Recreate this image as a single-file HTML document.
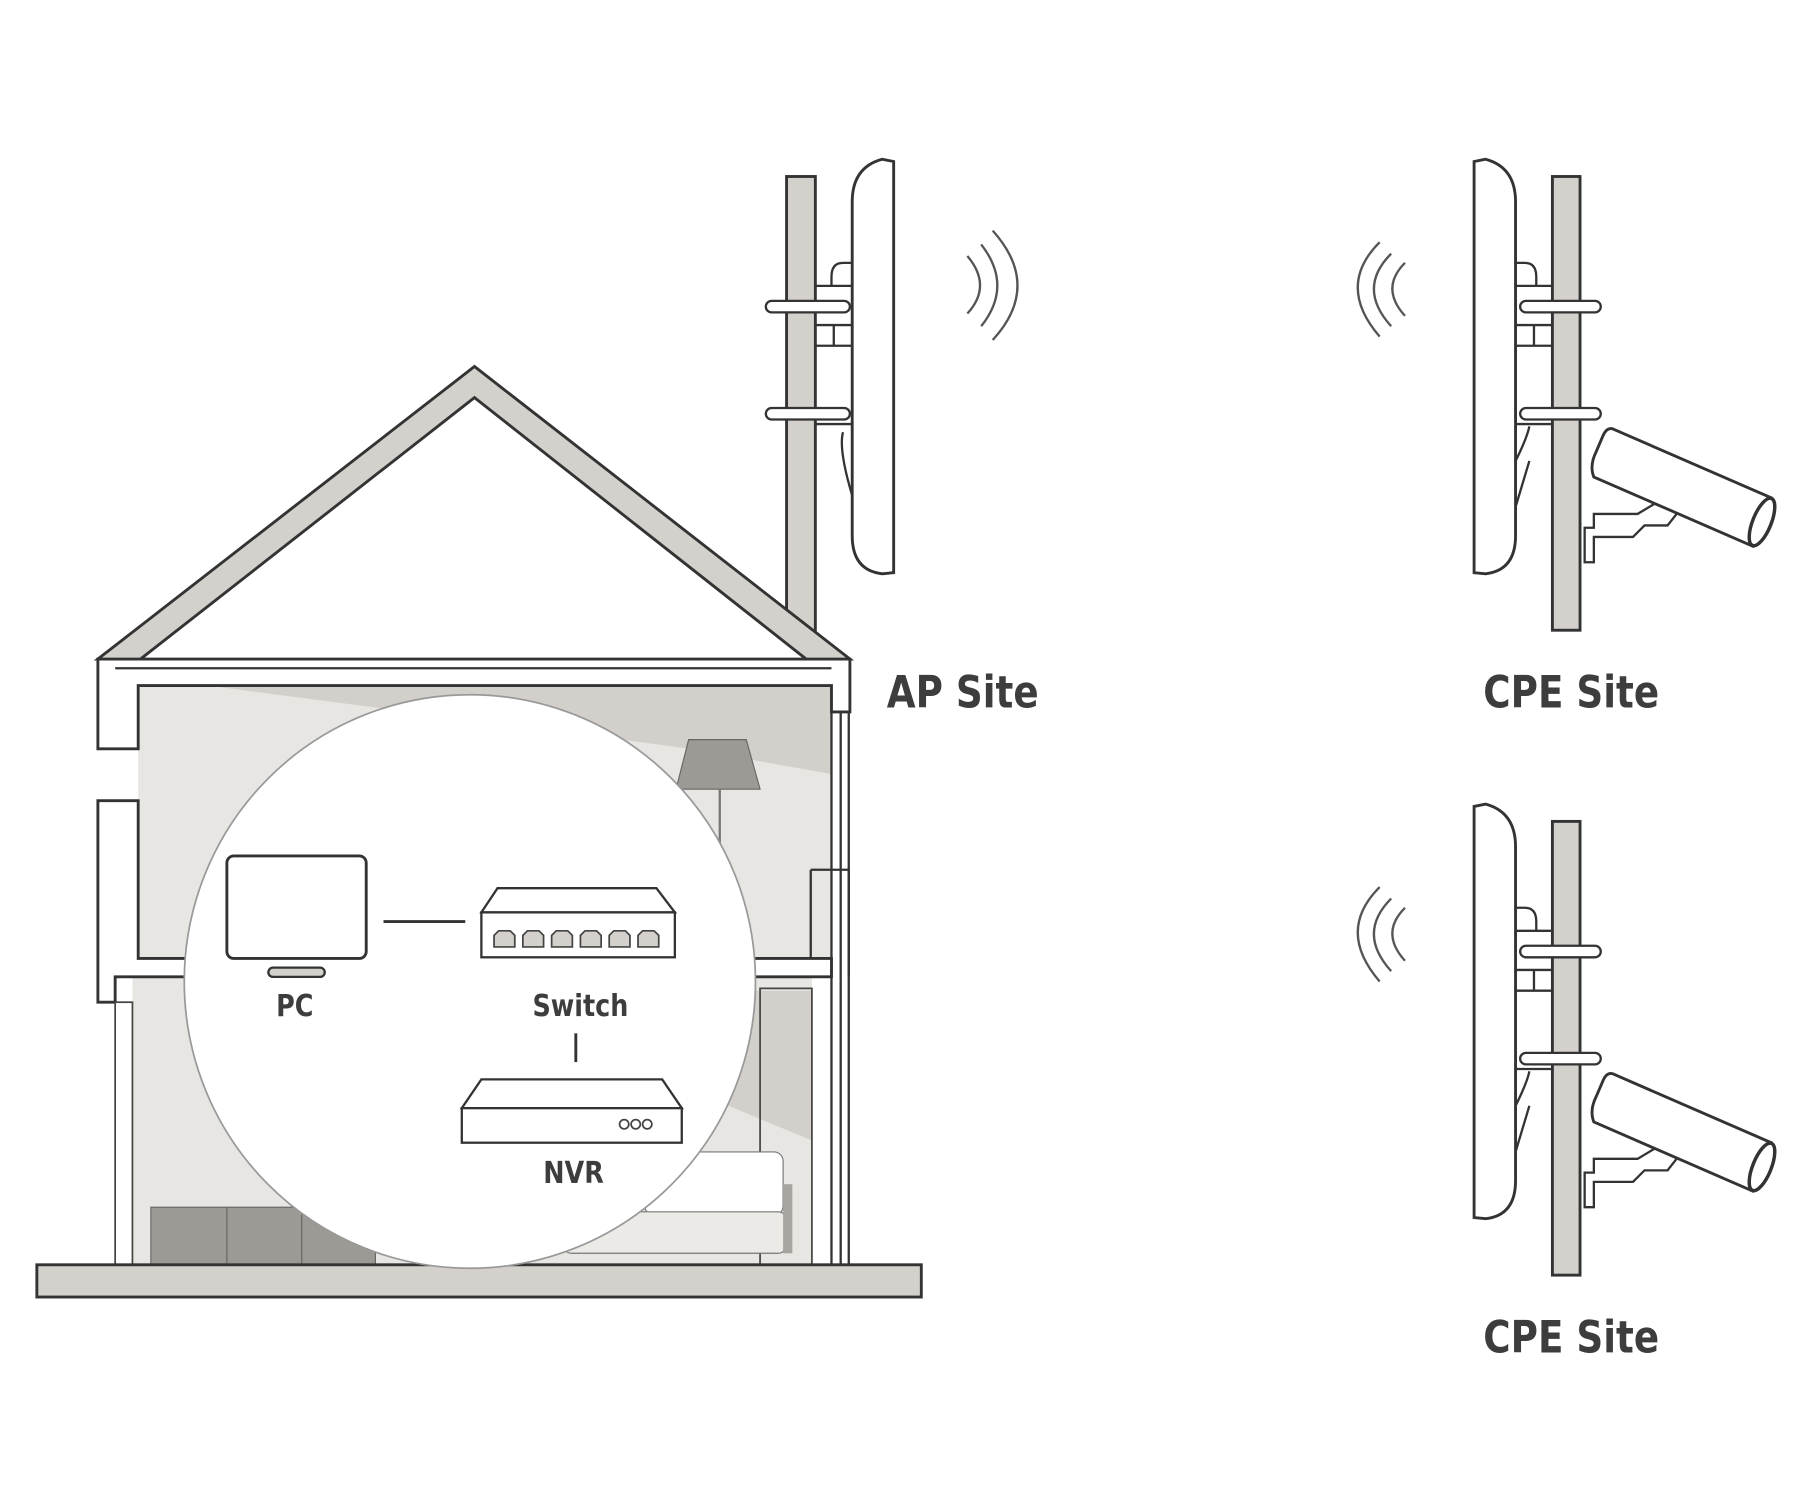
<!DOCTYPE html>
<html><head><meta charset="utf-8"><style>
html,body{margin:0;padding:0;background:#fff;}
svg{display:block;}
text{font-family:"DejaVu Sans","Liberation Sans",sans-serif;fill:#3d3d3d;font-weight:bold;}
</style></head><body>
<svg width="1800" height="1500" viewBox="0 0 1563 1302" xmlns="http://www.w3.org/2000/svg">
<defs>
<g id="cam">
  <path d="M1376,458 h8 v-12 h38 l30,-18 l18,0 l-22,28 h-20 l-10,10 h-34 v22 h-8 z" fill="#fff" stroke="#333" stroke-width="2"/>
  <path d="M1400,372 L1538,432 L1522,474 L1384,414 Q1380,404 1386,392 L1392,378 Q1395,371 1400,372 Z" fill="#fff" stroke="#333" stroke-width="2.5"/>
  <ellipse cx="1530" cy="453" rx="8" ry="22" transform="rotate(22 1530 453)" fill="#fff" stroke="#333" stroke-width="3"/>
</g>
<g id="cpe">
  <rect x="1348" y="153" width="24" height="394" fill="#d4d1cc" stroke="#333" stroke-width="2.5"/>
  <path d="M1316,228 h8 q10,0 10,12 v8 h14 M1316,248 h32 M1316,300 h32 M1332,282 v18 M1316,282 h32 M1316,368 h32 M1316,400 q10,-20 12,-30 M1316,440 l12,-40" fill="none" stroke="#333" stroke-width="2"/>
  <rect x="1320" y="261" width="70" height="10" rx="5" fill="#fff" stroke="#333" stroke-width="2"/>
  <rect x="1320" y="354" width="70" height="10" rx="5" fill="#fff" stroke="#333" stroke-width="2"/>
  <path d="M1280,140 L1290,138 Q1316,145 1316,175 L1316,465 Q1316,495 1290,498 L1280,497 Z" fill="#fff" stroke="#333" stroke-width="2.5"/>
  <use href="#cam"/>
  <g fill="none" stroke="#555" stroke-width="2">
    <path d="M1198,210 Q1160,248 1198,292"/>
    <path d="M1208,220 Q1178,250 1208,283"/>
    <path d="M1220,228 Q1198,250 1220,274"/>
  </g>
</g>
</defs>

<rect x="100" y="580" width="630" height="518" fill="#fff"/>
<rect x="120" y="595" width="602" height="240" fill="#e8e6e2"/>
<polygon points="180,595 722,595 722,672 600,650" fill="#d3d0cb"/>
<rect x="115" y="848" width="590" height="250" fill="#e8e6e2"/>
<polygon points="560,860 705,860 705,990 560,930" fill="#d3d0cb"/>
<path d="M85,572 H738 V618 H722 V595 H120 V650 H85 Z" fill="#fff" stroke="#333" stroke-width="2.5"/>
<path d="M100,580 H722" stroke="#333" stroke-width="2"/>
<path d="M722,618 V1098 M737,618 V1098 M730,618 V1098" stroke="#333" stroke-width="2"/>
<path d="M85,695 H120 V832 H722 V848 H100 V870 H85 Z" fill="#fff" stroke="#333" stroke-width="2.5"/>
<path d="M704,755 H737 V848" fill="none" stroke="#333" stroke-width="2"/>
<path d="M704,755 V832" stroke="#333" stroke-width="2"/>
<rect x="100" y="870" width="15" height="228" fill="#fff" stroke="#444" stroke-width="1.5"/>
<rect x="660" y="858" width="45" height="240" fill="none" stroke="#444" stroke-width="1.5"/>
<polygon points="598,642 648,642 660,685 587,685" fill="#9d9a95" stroke="#666"/>
<line x1="625" y1="685" x2="625" y2="740" stroke="#777" stroke-width="2"/>
<rect x="131" y="1048" width="195" height="50" fill="#9d9a95" stroke="#666"/>
<line x1="197" y1="1048" x2="197" y2="1098" stroke="#666"/>
<line x1="262" y1="1048" x2="262" y2="1098" stroke="#666"/>
<rect x="560" y="1000" width="120" height="55" rx="8" fill="#fff" stroke="#777"/>
<rect x="490" y="1052" width="192" height="36" rx="6" fill="#eceae6" stroke="#777"/>
<rect x="680" y="1028" width="8" height="60" fill="#a8a5a0"/>
<rect x="683" y="153" width="25" height="395" fill="#d4d1cc" stroke="#333" stroke-width="2.5"/>
<polygon points="85,572 412,318 738,572 700,572 412,345 122,572" fill="#d4d1cc" stroke="#333" stroke-width="2.5" stroke-linejoin="miter"/>
<path d="M740,228 h-8 q-10,0 -10,12 v8 h-14 M740,248 h-32 M740,300 h-32 M724,282 v18 M740,282 h-32 M740,368 h-32 M740,430 q-12,-40 -8,-55" fill="none" stroke="#333" stroke-width="2"/>
<rect x="665" y="261" width="73" height="10" rx="5" fill="#fff" stroke="#333" stroke-width="2"/>
<rect x="665" y="354" width="73" height="10" rx="5" fill="#fff" stroke="#333" stroke-width="2"/>
<path d="M776,140 L766,138 Q740,145 740,175 L740,465 Q740,495 766,498 L776,497 Z" fill="#fff" stroke="#333" stroke-width="2.5"/>
<g fill="none" stroke="#555" stroke-width="2">
  <path d="M862,200 Q905,248 862,295"/>
  <path d="M852,212 Q880,248 852,283"/>
  <path d="M840,222 Q862,248 840,272"/>
</g>
<rect x="32" y="1098" width="768" height="28" fill="#d4d1cc" stroke="#333" stroke-width="2.5"/>
<ellipse cx="408" cy="852" rx="248" ry="249" fill="#fff" stroke="#999" stroke-width="1.5"/>
<rect x="197" y="743" width="121" height="89" rx="6" fill="#fff" stroke="#333" stroke-width="2.5"/>
<rect x="233" y="840" width="49" height="8" rx="4" fill="#d4d1cc" stroke="#333" stroke-width="2"/>
<line x1="333" y1="800" x2="404" y2="800" stroke="#333" stroke-width="2.5"/>
<polygon points="432,771 570,771 586,792 418,792" fill="#fff" stroke="#333" stroke-width="2"/>
<rect x="418" y="792" width="168" height="39" fill="#fff" stroke="#333" stroke-width="2"/>
<g fill="#d4d1cc" stroke="#444" stroke-width="1.5">
<path d="M429,822 v-10 l4,-4 h10 l4,4 v10 z"/><path d="M454,822 v-10 l4,-4 h10 l4,4 v10 z"/><path d="M479,822 v-10 l4,-4 h10 l4,4 v10 z"/><path d="M504,822 v-10 l4,-4 h10 l4,4 v10 z"/><path d="M529,822 v-10 l4,-4 h10 l4,4 v10 z"/><path d="M554,822 v-10 l4,-4 h10 l4,4 v10 z"/>
</g>
<text x="256" y="882" font-size="26" text-anchor="middle" transform="translate(256 0) scale(0.85 1) translate(-256 0)">PC</text>
<text x="504" y="882" font-size="26" text-anchor="middle" transform="translate(504 0) scale(0.85 1) translate(-504 0)">Switch</text>
<line x1="500" y1="897" x2="500" y2="922" stroke="#333" stroke-width="2.5"/>
<polygon points="418,937 575,937 592,962 401,962" fill="#fff" stroke="#333" stroke-width="2"/>
<rect x="401" y="962" width="191" height="30" fill="#fff" stroke="#333" stroke-width="2"/>
<g fill="none" stroke="#444" stroke-width="1.5"><circle cx="542" cy="976" r="4"/><circle cx="552" cy="976" r="4"/><circle cx="562" cy="976" r="4"/></g>
<text x="498" y="1027" font-size="26" text-anchor="middle" transform="translate(498 0) scale(0.85 1) translate(-498 0)">NVR</text>
<text x="770" y="614" font-size="39" transform="translate(770 0) scale(0.83 1) translate(-770 0)">AP Site</text>
<use href="#cpe"/>
<use href="#cpe" transform="translate(0 560)"/>
<text x="1288" y="614" font-size="39" transform="translate(1288 0) scale(0.83 1) translate(-1288 0)">CPE Site</text>
<text x="1288" y="1174" font-size="39" transform="translate(1288 0) scale(0.83 1) translate(-1288 0)">CPE Site</text>
</svg>
</body></html>
